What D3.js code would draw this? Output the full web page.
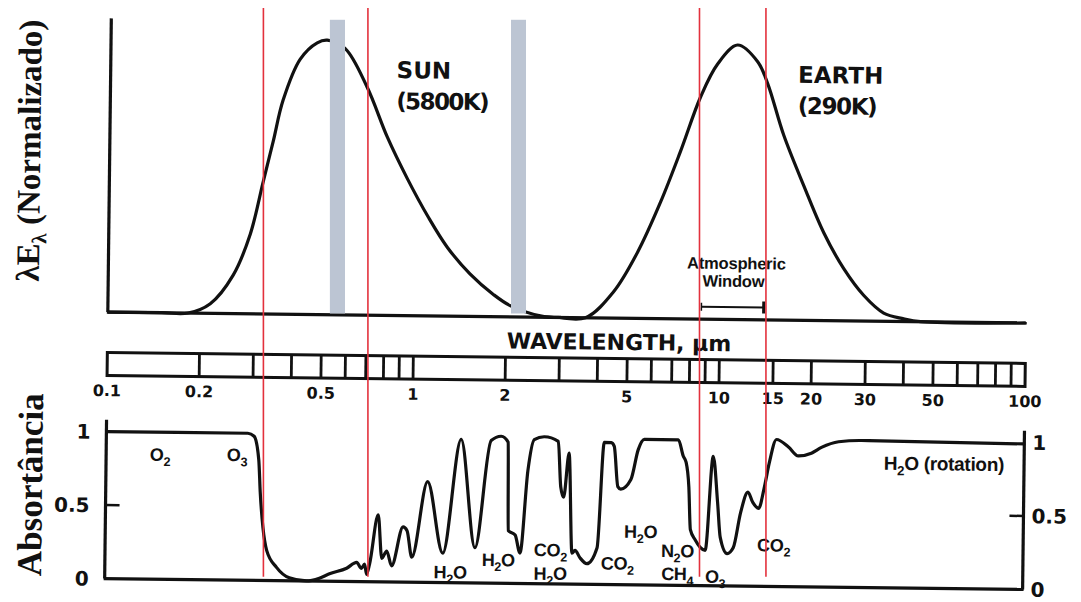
<!DOCTYPE html>
<html>
<head>
<meta charset="utf-8">
<script src="https://cdn.jsdelivr.net/npm/d3@7"></script>
<style>
  html, body { margin: 0; padding: 0; background: #ffffff; }
  svg { display: block; }
</style>
</head>
<body>
<svg id="chart" width="1081" height="602"></svg>
<script>
// ---- Data -------------------------------------------------------------
// Blackbody curves, normalized lambda*E_lambda (wavelength in micrometres)
const sunWavelength = [0.10, 0.15, 0.183, 0.216, 0.256, 0.290, 0.318, 0.342, 0.367, 0.416, 0.472, 0.509, 0.583, 0.690, 0.806, 0.940, 1.105, 1.28, 1.52, 1.82, 2.07, 2.59, 3.0];
const sunValue      = [0, 0, 0, 0.035, 0.14, 0.29, 0.48, 0.63, 0.78, 0.93, 0.99, 1.0, 0.97, 0.83, 0.65, 0.50, 0.36, 0.25, 0.155, 0.08, 0.04, 0.005, 0];

const earthWavelength = [3.0, 3.64, 4.48, 5.35, 6.34, 7.33, 8.49, 9.62, 11.16, 13.0, 14.05, 15.9, 18.6, 21.7, 25.3, 29.5, 34.3, 39.9, 45.3, 100];
const earthValue      = [0, 0, 0.095, 0.24, 0.425, 0.61, 0.81, 0.93, 1.0, 0.94, 0.86, 0.675, 0.49, 0.32, 0.19, 0.093, 0.03, 0.01, 0, 0];

// Atmospheric absorptance across the spectrum
const absWavelength = [0.1, 0.29, 0.304, 0.3155, 0.320, 0.3275, 0.3375, 0.364, 0.401, 0.456, 0.503, 0.5425, 0.617, 0.665, 0.69, 0.706, 0.717, 0.733, 0.779, 0.803, 0.833, 0.865, 0.94, 0.969, 1.006, 1.126, 1.27, 1.444, 1.617, 1.81, 1.952, 2.058, 2.074, 2.186, 2.27, 2.393, 2.503, 2.70, 3.0, 3.068, 3.138, 3.258, 3.357, 3.434, 3.566, 3.759, 4.054, 4.241, 4.471, 4.573, 4.713, 4.819, 5.197, 5.478, 5.732, 7.404, 7.689, 7.864, 8.043, 8.166, 8.48, 8.806, 9.144, 9.638, 10.0, 10.23, 10.79, 11.29, 11.9, 12.55, 13.03, 13.63, 14.15, 14.70, 15.49, 16.96, 18.28, 20.16, 21.74, 24.72, 29.38, 100];
const absValue      = [1.0, 1.0, 0.98, 0.82, 0.595, 0.36, 0.205, 0.09, 0.02, 0.0, 0.02, 0.05, 0.09, 0.13, 0.09, 0.12, 0.05, 0.12, 0.455, 0.16, 0.21, 0.11, 0.375, 0.35, 0.17, 0.685, 0.2, 0.975, 0.24, 0.97, 1.0, 0.96, 0.36, 0.33, 0.207, 0.77, 0.98, 1.0, 0.97, 0.66, 0.59, 0.89, 0.21, 0.23, 0.18, 0.14, 0.25, 0.967, 0.965, 0.94, 0.667, 0.65, 0.716, 0.92, 0.99, 0.99, 0.88, 0.837, 0.67, 0.38, 0.31, 0.26, 0.24, 0.88, 0.566, 0.33, 0.22, 0.26, 0.50, 0.64, 0.57, 0.53, 0.66, 0.84, 1.0, 0.95, 0.89, 0.91, 0.95, 0.99, 1.0, 0.99];

// Absorbing gases: label, wavelength, absorptance at label centre
const gasLabels     = ["O_2", "O_3", "H_2O", "H_2O", "CO_2", "H_2O", "CO_2", "H_2O", "N_2O", "CH_4", "O_3", "CO_2", "H_2O (rotation)"];
const gasWavelength = [0.150, 0.268, 1.345, 1.93, 2.855, 2.855, 4.73, 5.62, 7.43, 7.43, 9.89, 15.31, 54.7];
const gasValue      = [0.845, 0.85, 0.07, 0.157, 0.228, 0.068, 0.143, 0.36, 0.232, 0.076, 0.061, 0.279, 0.844];

// Wavelength ruler
const rulerTicks  = [0.2, 0.3, 0.4, 0.5, 0.6, 0.7, 0.8, 0.9, 1, 2, 3, 4, 5, 6, 7, 8, 9, 10, 15, 20, 30, 40, 50, 60, 70, 80, 90];
const rulerLabels = [0.1, 0.2, 0.5, 1, 2, 5, 10, 15, 20, 30, 50, 100];

// Absorptance axis ticks
const absTicks = [0, 0.5, 1];

// Band markers
const redLines = [0.322, 0.707, 8.57, 14.13];
const grayBands = [[0.531, 0.595], [2.075, 2.323]];
const atmWindow = [8.7, 13.9];

// ---- Scales -----------------------------------------------------------
const svg = d3.select("#chart");
const x = d3.scaleLog().domain([0.1, 100]).range([108, 1026]);
const yTop = d3.scaleLinear().domain([0, 1]).range([317.5, 43]);
const yBot = d3.scaleLinear().domain([0, 1]).range([584, 437]);

const INK = "#111111";
const sansBold = "'DejaVu Sans', sans-serif";
const arialBold = "'Liberation Sans', Arial, sans-serif";
const serif = "'Liberation Serif', 'Times New Roman', serif";

// text with digit subscripts written as "_2"
function richText(sel, str, fs) {
  const parts = str.split(/_(\d)/);
  const shift = fs * 0.28;
  parts.forEach((p, i) => {
    if (!p) return;
    if (i % 2 === 1) {
      sel.append("tspan").attr("font-size", fs * 0.7).attr("dy", shift).text(p);
    } else {
      const t = sel.append("tspan").text(p);
      if (i > 0) t.attr("dy", -shift);
    }
  });
}

// The whole printed figure sits very slightly tilted
const g = svg.append("g").attr("transform", "rotate(0.68, 566, 300)");

// ---- Upper panel: emission curves --------------------------------------
g.append("line")
  .attr("x1", x(0.1)).attr("x2", x(0.1))
  .attr("y1", yTop(1.07)).attr("y2", yTop(0))
  .attr("stroke", INK).attr("stroke-width", 3.2);
g.append("line")
  .attr("x1", x(0.1) - 1).attr("x2", x(100) + 1)
  .attr("y1", yTop(0)).attr("y2", yTop(0))
  .attr("stroke", INK).attr("stroke-width", 3.2);

const lineTop = d3.line()
  .x(d => x(d[0])).y(d => Math.min(yTop(0), yTop(d[1])))
  .curve(d3.curveCatmullRom.alpha(0.5));

g.append("path")
  .attr("d", lineTop(d3.zip(sunWavelength, sunValue)))
  .attr("fill", "none").attr("stroke", INK).attr("stroke-width", 3.2);
g.append("path")
  .attr("d", lineTop(d3.zip(earthWavelength, earthValue)))
  .attr("fill", "none").attr("stroke", INK).attr("stroke-width", 3.2);

const bigLabel = (wl, v, txt, ls) => g.append("text")
  .attr("x", x(wl)).attr("y", yTop(v))
  .attr("font-family", sansBold).attr("font-weight", "bold")
  .attr("font-size", 23).attr("letter-spacing", ls).attr("fill", INK).text(txt);
bigLabel(0.86, 0.865, "SUN", 0);
bigLabel(0.86, 0.752, "(5800K)", -1.6);
bigLabel(17.65, 0.865, "EARTH", 0);
bigLabel(17.65, 0.752, "(290K)", -1.4);

g.append("text")
  .attr("x", x(11.28)).attr("y", yTop(0.205))
  .attr("text-anchor", "middle").attr("dy", "0.35em")
  .attr("font-family", arialBold).attr("font-weight", "bold")
  .attr("font-size", 16.5).attr("letter-spacing", -0.2).attr("fill", INK)
  .text("Atmospheric");
g.append("text")
  .attr("x", x(11.05)).attr("y", yTop(0.14))
  .attr("text-anchor", "middle").attr("dy", "0.35em")
  .attr("font-family", arialBold).attr("font-weight", "bold")
  .attr("font-size", 16.5).attr("letter-spacing", -0.2).attr("fill", INK)
  .text("Window");
g.append("line")
  .attr("x1", x(atmWindow[0])).attr("x2", x(atmWindow[1]))
  .attr("y1", yTop(0.045)).attr("y2", yTop(0.045))
  .attr("stroke", INK).attr("stroke-width", 2.2);
atmWindow.forEach((w, i) => g.append("line")
  .attr("x1", x(w)).attr("x2", x(w))
  .attr("y1", yTop(0.045) - (i ? 6 : 4)).attr("y2", yTop(0.045) + (i ? 6 : 4))
  .attr("stroke", INK).attr("stroke-width", i ? 3 : 1.5));

// Y title (upper)
const t1 = g.append("text")
  .attr("transform", "translate(27,157) rotate(-90)")
  .attr("text-anchor", "middle").attr("dy", "0.35em")
  .attr("font-family", serif).attr("font-weight", "bold")
  .attr("font-size", 33).attr("fill", INK);
t1.append("tspan").text("\u03BBE");
t1.append("tspan").attr("font-size", 21).attr("dy", 7).text("\u03BB");
t1.append("tspan").attr("dy", -7).text(" (Normalizado)");

// ---- Wavelength ruler ---------------------------------------------------
g.append("text")
  .attr("x", 619.5).attr("y", 341.5)
  .attr("text-anchor", "middle").attr("dy", "0.35em")
  .attr("font-family", sansBold).attr("font-weight", "bold")
  .attr("font-size", 22).attr("fill", INK)
  .text("WAVELENGTH, \u00B5m");

const rulerTop = 358, rulerBottom = 381;
g.append("rect")
  .attr("x", x(0.1)).attr("y", rulerTop)
  .attr("width", x(100) - x(0.1)).attr("height", rulerBottom - rulerTop)
  .attr("fill", "#fff").attr("stroke", INK).attr("stroke-width", 3);
g.selectAll(".rtick").data(rulerTicks).join("line")
  .attr("x1", d => x(d)).attr("x2", d => x(d))
  .attr("y1", rulerTop).attr("y2", rulerBottom)
  .attr("stroke", INK).attr("stroke-width", 2.8);
g.selectAll(".rlab").data(rulerLabels).join("text")
  .attr("x", d => x(d)).attr("y", 396)
  .attr("text-anchor", "middle").attr("dy", "0.35em")
  .attr("font-family", sansBold).attr("font-weight", "bold")
  .attr("font-size", 16).attr("fill", INK)
  .text(d => d);

// ---- Lower panel: absorptance -------------------------------------------
g.append("line")
  .attr("x1", x(0.1)).attr("x2", x(0.1))
  .attr("y1", yBot(1.08)).attr("y2", yBot(0))
  .attr("stroke", INK).attr("stroke-width", 3.2);
g.append("line")
  .attr("x1", x(100)).attr("x2", x(100))
  .attr("y1", yBot(1.08)).attr("y2", yBot(0))
  .attr("stroke", INK).attr("stroke-width", 3.2);
g.append("line")
  .attr("x1", x(0.1) - 1).attr("x2", x(100) + 1)
  .attr("y1", yBot(0)).attr("y2", yBot(0))
  .attr("stroke", INK).attr("stroke-width", 3.2);

// inward ticks at 0.5 on both sides
g.append("line")
  .attr("x1", x(0.1)).attr("x2", x(0.1) + 14)
  .attr("y1", yBot(0.5)).attr("y2", yBot(0.5))
  .attr("stroke", INK).attr("stroke-width", 2.5);
g.append("line")
  .attr("x1", x(100) - 14).attr("x2", x(100))
  .attr("y1", yBot(0.5)).attr("y2", yBot(0.5))
  .attr("stroke", INK).attr("stroke-width", 2.5);

g.selectAll(".lAbs").data(absTicks).join("text")
  .attr("x", x(0.1) - 16).attr("y", d => yBot(d))
  .attr("text-anchor", "end").attr("dy", "0.36em")
  .attr("font-family", sansBold).attr("font-weight", "bold")
  .attr("font-size", 20).attr("fill", INK)
  .text(d => d);
g.selectAll(".rAbs").data(absTicks).join("text")
  .attr("x", x(100) + 8).attr("y", d => yBot(d))
  .attr("text-anchor", "start").attr("dy", "0.36em")
  .attr("font-family", sansBold).attr("font-weight", "bold")
  .attr("font-size", 20).attr("fill", INK)
  .text(d => d);

const lineBot = d3.line()
  .x(d => x(d[0])).y(d => yBot(d[1]))
  .curve(d3.curveMonotoneX);
g.append("path")
  .attr("d", lineBot(d3.zip(absWavelength, absValue)))
  .attr("fill", "none").attr("stroke", INK)
  .attr("stroke-width", 3.2).attr("stroke-linejoin", "round");

gasLabels.forEach((lab, i) => {
  const fs = lab.length > 6 ? 19 : 18;
  const t = g.append("text")
    .attr("x", x(gasWavelength[i])).attr("y", yBot(gasValue[i]) + 6)
    .attr("text-anchor", "middle")
    .attr("font-family", arialBold).attr("font-weight", "bold")
    .attr("font-size", fs).attr("letter-spacing", -0.3).attr("fill", INK);
  richText(t, lab, fs);
});

// Y title (lower)
g.append("text")
  .attr("transform", "translate(32,491) rotate(-90)")
  .attr("text-anchor", "middle").attr("dy", "0.35em")
  .attr("font-family", serif).attr("font-weight", "bold")
  .attr("font-size", 35).attr("fill", INK)
  .text("Absort\u00E2ncia");

// ---- Band markers (drawn upright over the figure) ----------------------
const ov = svg.append("g");
ov.selectAll(".band").data(grayBands).join("rect")
  .attr("x", d => x(d[0])).attr("width", d => x(d[1]) - x(d[0]))
  .attr("y", yTop(1.07) - 4).attr("height", yTop(0) - yTop(1.07))
  .attr("fill", "#bcc5d3");
ov.selectAll(".red").data(redLines).join("line")
  .attr("x1", d => x(d)).attr("x2", d => x(d))
  .attr("y1", 8).attr("y2", yBot(0.05))
  .attr("stroke", "#e3313d").attr("stroke-width", 1.6);
</script>
</body>
</html>
